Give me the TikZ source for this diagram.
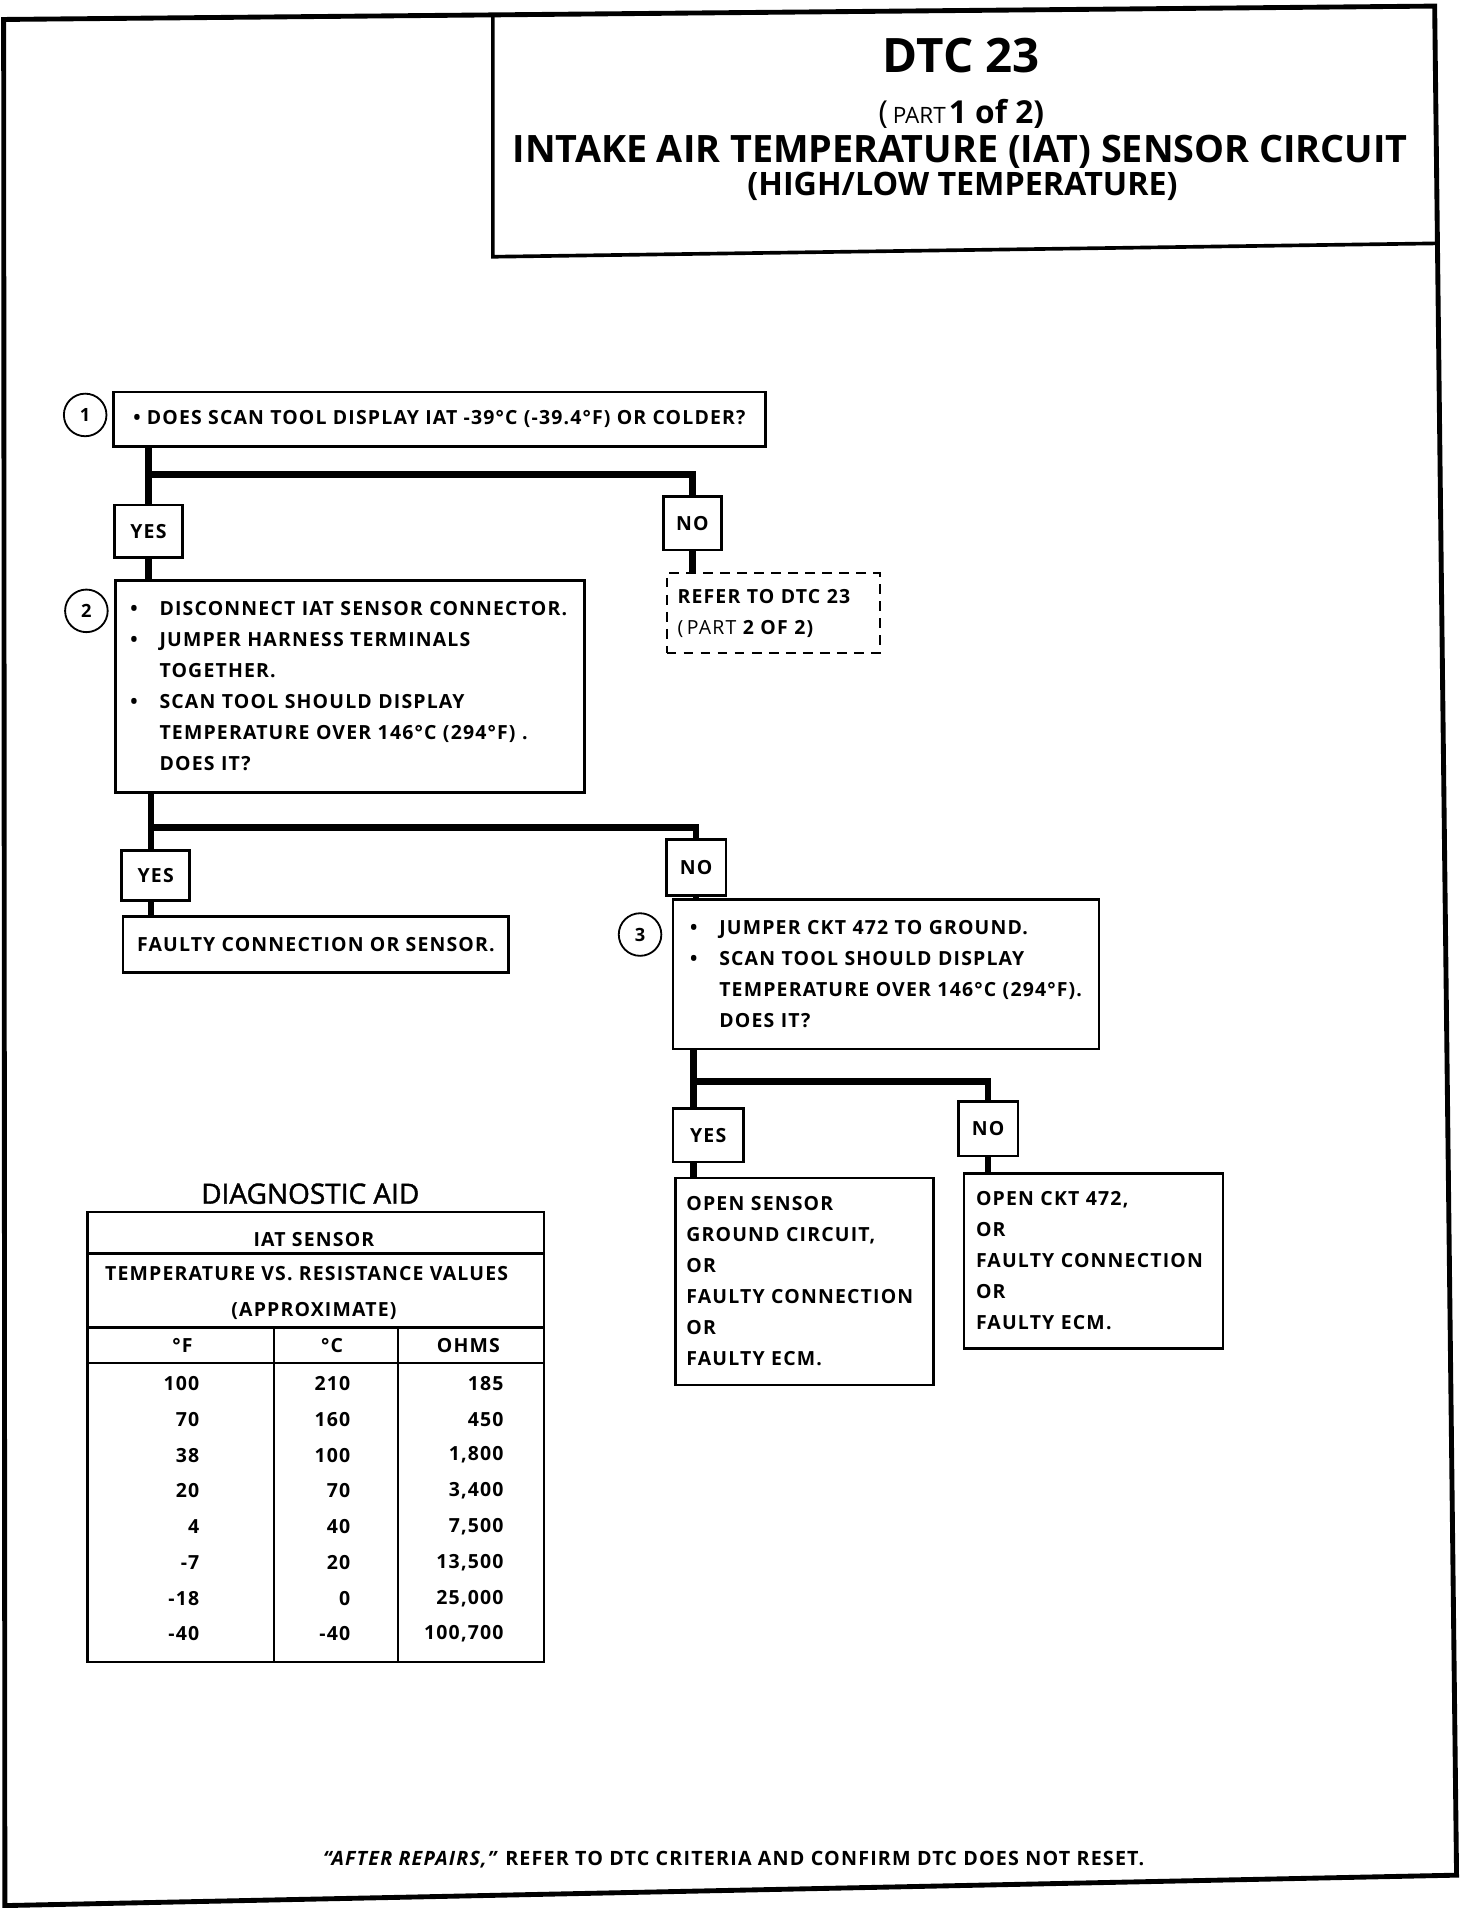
\documentclass[tikz,border=0pt]{standalone}
\usepackage{fontspec}
\setmainfont{Open Sans}
\newfontfamily\lsf{Open Sans}[LetterSpace=6]
\newfontfamily\semi{Open Sans}[FakeBold=1.5]
\usetikzlibrary{calc}
\newcommand\bxf{\lsf\bfseries\fontsize{16}{25.5}\selectfont}
\newcommand\bul{\makebox[24pt][l]{\textbullet}}
\newcommand\ind{\hspace*{24pt}}
\tikzset{
 conn/.style={line width=5.5pt},
 box/.style={draw, line width=2.2pt, anchor=north west, inner ysep=0pt, align=left, font=\bxf},
 tag/.style={draw, line width=2.2pt, inner sep=0pt, font=\lsf\bfseries\fontsize{16}{18}\selectfont},
 circ/.style={draw, circle, line width=1.5pt, minimum size=35pt, inner sep=0pt, font=\bfseries\fontsize{15}{16}\selectfont},
 txt/.style={inner sep=0pt},
 tb/.style={inner sep=0pt, font=\lsf\bfseries\fontsize{16}{18}\selectfont},
}
\begin{document}
\begin{tikzpicture}[x=1pt,y=-1pt,line join=miter]
\useasboundingbox (0,0) rectangle (1210,1568);
% frame and title box
\draw[line width=4pt] (3,16) -- (1179,5) -- (1197,1541) -- (4,1566) -- cycle;
\draw[line width=3pt] (405,13) -- (405,211) -- (1181,200);
\node[txt, font=\bfseries\fontsize{39}{40}\selectfont] (t1) at (790,46) {DTC 23};
\node[txt] (t2) at (790,94) {{\fontsize{26}{27}\selectfont(}\hspace{4pt}{\fontsize{18.5}{20}\selectfont PART}\ {\bfseries\fontsize{26}{27}\selectfont 1 of 2)}};
\node[txt, font=\bfseries\fontsize{31}{32}\selectfont] (t3) at (789,125) {INTAKE AIR TEMPERATURE (IAT) SENSOR CIRCUIT};
\node[txt, font=\bfseries\fontsize{26.5}{28}\selectfont] (t4) at (791,153) {(HIGH/LOW TEMPERATURE)};

% step 1
\node[circ] (c1) at (70,341) {1};
\node[box, inner xsep=10pt, minimum width=536pt, minimum height=45pt] (b1) at (92,321) {\textbullet\ DOES SCAN TOOL DISPLAY IAT -39°C (-39.4°F) OR COLDER?};
\node[tag, minimum width=56pt, minimum height=43pt] (yes1) at (122,436.5) {YES};
\node[tag, minimum width=48pt, minimum height=44pt] (no1) at (569,430) {NO};
\node[box, dashed, dash pattern=on 8pt off 6pt, line width=1.6pt, inner xsep=9pt, text width=157pt, minimum width=175pt, minimum height=66pt] (refer) at (547,470) {REFER TO DTC 23\\{\mdseries(\hspace{3pt}PART} 2 OF 2)};
\coordinate (j1) at (122,390);
\draw[conn] (b1.south -| j1) -- (yes1.north -| j1);
\draw[conn] (yes1.south -| j1) -- (94,476 -| j1);
\draw[conn] (j1) -| (no1.north);
\draw[conn] (no1.south) -- (refer.north -| no1.south);

% step 2
\node[circ] (c2) at (71,502) {2};
\node[box, inner xsep=12pt, text width=361pt, minimum width=385pt, minimum height=174pt] (b2) at (94,476) {\bul DISCONNECT IAT SENSOR CONNECTOR.\\ \bul JUMPER HARNESS TERMINALS\\ \ind TOGETHER.\\ \bul SCAN TOOL SHOULD DISPLAY\\ \ind TEMPERATURE OVER 146°C (294°F) .\\ \ind DOES IT?};
\node[tag, minimum width=56pt, minimum height=41pt] (yes2) at (128,719.5) {YES};
\node[box, inner xsep=10pt, minimum width=317pt, minimum height=46pt] (faulty) at (100,752) {FAULTY CONNECTION OR SENSOR.};
\node[tag, minimum width=49pt, minimum height=46pt] (no2) at (572,713) {NO};
\coordinate (j2) at (124,680);
\draw[conn] (b2.south -| j2) -- (yes2.north -| j2);
\draw[conn] (yes2.south -| j2) -- (faulty.north -| j2);
\draw[conn] (j2) -| (no2.north);

% step 3
\node[circ] (c3) at (526,768) {3};
\node[box, inner xsep=14pt, text width=322pt, minimum width=350pt, minimum height=123pt] (b3) at (552,738) {\bul JUMPER CKT 472 TO GROUND.\\ \bul SCAN TOOL SHOULD DISPLAY\\ \ind TEMPERATURE OVER 146°C (294°F).\\ \ind DOES IT?};
\draw[conn] (no2.south) -- (b3.north -| no2.south);
\node[tag, minimum width=58pt, minimum height=44pt] (yes3) at (582,933) {YES};
\node[tag, minimum width=49pt, minimum height=45pt] (no3) at (812,927.5) {NO};
\node[box, inner xsep=9pt, text width=194pt, minimum width=212pt, minimum height=170pt] (os) at (554,967) {OPEN SENSOR\\ GROUND CIRCUIT,\\ OR\\ FAULTY CONNECTION\\ OR\\ FAULTY ECM.};
\node[box, inner xsep=10pt, text width=193pt, minimum width=213pt, minimum height=144pt] (oc) at (791,963) {OPEN CKT 472,\\ OR\\ FAULTY CONNECTION\\ OR\\ FAULTY ECM.};
\coordinate (j3) at (570,889);
\draw[conn] (b3.south -| j3) -- (yes3.north -| j3);
\draw[conn] (yes3.south -| j3) -- (os.north -| j3);
\draw[conn] (j3) -| (no3.north);
\draw[conn] (no3.south) -- (oc.north -| no3.south);

% diagnostic aid table
\node[txt, font=\semi\fontsize{23}{24}\selectfont] (da) at (255,981) {DIAGNOSTIC AID};
\draw[line width=2pt] (72,996) rectangle (447,1366);
\draw[line width=2pt] (72,1030) -- (447,1030);
\draw[line width=2pt] (72,1091) -- (447,1091);
\draw[line width=2pt] (72,1120) -- (447,1120);
\draw[line width=2pt] (225,1091) -- (225,1366);
\draw[line width=2pt] (327,1091) -- (327,1366);
\node[tb] (h1) at (258,1019) {IAT SENSOR};
\node[tb] (h2) at (252,1047) {TEMPERATURE VS. RESISTANCE VALUES};
\node[tb] (h3) at (258,1077) {(APPROXIMATE)};
\node[tb] (hf) at (150,1106) {°F};
\node[tb] (hc) at (273,1106) {°C};
\node[tb] (ho) at (385,1106) {OHMS};
\foreach \f/\c/\o [count=\i from 0] in {100/210/185, 70/160/450, 38/100/{1,800}, 20/70/{3,400}, 4/40/{7,500}, -7/20/{13,500}, -18/0/{25,000}, -40/-40/{100,700}} {
  \node[tb, anchor=east] (f\i) at (164,1137+29.4*\i) {\f};
  \node[tb, anchor=east] (c\i) at (288,1137+29.4*\i) {\c};
  \node[tb, anchor=east] (o\i) at (414,1137+29.4*\i) {\o};
}

% footer
\node[txt, font=\lsf\bfseries\fontsize{16.2}{17}\selectfont] (foot) at (603,1528) {\textit{“AFTER REPAIRS,”} REFER TO DTC CRITERIA AND CONFIRM DTC DOES NOT RESET.};
\end{tikzpicture}
\end{document}
